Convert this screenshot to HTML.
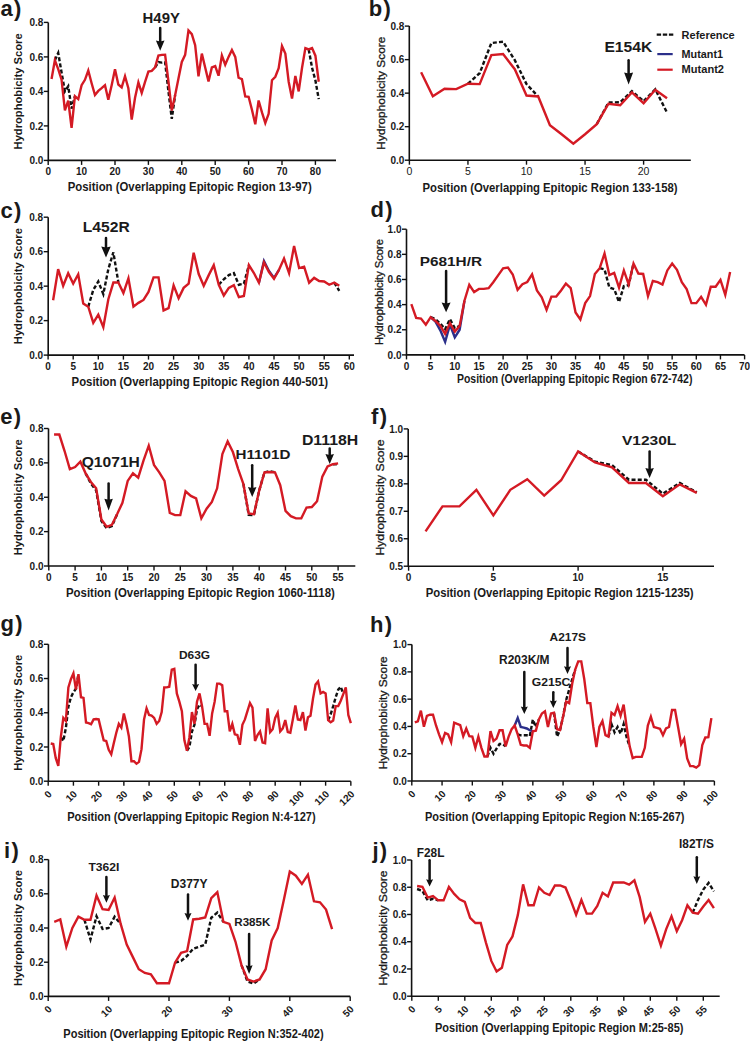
<!DOCTYPE html>
<html><head><meta charset="utf-8"><style>
html,body{margin:0;padding:0;background:#fff;overflow:hidden;}
svg{display:block;}
text{font-family:"Liberation Sans", sans-serif;fill:#1a1a1a;}
.tk{font-size:10px;font-weight:bold;}
.ti{font-size:12px;font-weight:bold;}
.yl{font-size:10.5px;font-weight:bold;}
.yln{font-weight:normal;font-size:10.5px;stroke:#1a1a1a;stroke-width:0.3px;}
.tkn{font-size:10.5px;font-weight:normal;}
.pl{font-size:22px;font-weight:bold;letter-spacing:1.3px;}
.an{font-size:14px;font-weight:bold;}
.lg{font-size:11px;font-weight:bold;}
</style></head><body>
<svg width="750" height="1042" viewBox="0 0 750 1042">
<rect width="750" height="1042" fill="#fff"/>
<path d="M48.30 22.40 V160.40 H336.00" fill="none" stroke="#111" stroke-width="1.6"/>
<line x1="43.80" y1="160.40" x2="48.30" y2="160.40" stroke="#111" stroke-width="1.4"/>
<text x="43.30" y="164.00" text-anchor="end" class="tk">0.0</text>
<line x1="43.80" y1="125.90" x2="48.30" y2="125.90" stroke="#111" stroke-width="1.4"/>
<text x="43.30" y="129.50" text-anchor="end" class="tk">0.2</text>
<line x1="43.80" y1="91.40" x2="48.30" y2="91.40" stroke="#111" stroke-width="1.4"/>
<text x="43.30" y="95.00" text-anchor="end" class="tk">0.4</text>
<line x1="43.80" y1="56.90" x2="48.30" y2="56.90" stroke="#111" stroke-width="1.4"/>
<text x="43.30" y="60.50" text-anchor="end" class="tk">0.6</text>
<line x1="43.80" y1="22.40" x2="48.30" y2="22.40" stroke="#111" stroke-width="1.4"/>
<text x="43.30" y="26.00" text-anchor="end" class="tk">0.8</text>
<line x1="48.20" y1="160.40" x2="48.20" y2="164.90" stroke="#111" stroke-width="1.4"/>
<text x="48.20" y="175.40" text-anchor="middle" class="tk">0</text>
<line x1="81.60" y1="160.40" x2="81.60" y2="164.90" stroke="#111" stroke-width="1.4"/>
<text x="81.60" y="175.40" text-anchor="middle" class="tk">10</text>
<line x1="115.00" y1="160.40" x2="115.00" y2="164.90" stroke="#111" stroke-width="1.4"/>
<text x="115.00" y="175.40" text-anchor="middle" class="tk">20</text>
<line x1="148.40" y1="160.40" x2="148.40" y2="164.90" stroke="#111" stroke-width="1.4"/>
<text x="148.40" y="175.40" text-anchor="middle" class="tk">30</text>
<line x1="181.80" y1="160.40" x2="181.80" y2="164.90" stroke="#111" stroke-width="1.4"/>
<text x="181.80" y="175.40" text-anchor="middle" class="tk">40</text>
<line x1="215.20" y1="160.40" x2="215.20" y2="164.90" stroke="#111" stroke-width="1.4"/>
<text x="215.20" y="175.40" text-anchor="middle" class="tk">50</text>
<line x1="248.60" y1="160.40" x2="248.60" y2="164.90" stroke="#111" stroke-width="1.4"/>
<text x="248.60" y="175.40" text-anchor="middle" class="tk">60</text>
<line x1="282.00" y1="160.40" x2="282.00" y2="164.90" stroke="#111" stroke-width="1.4"/>
<text x="282.00" y="175.40" text-anchor="middle" class="tk">70</text>
<line x1="315.40" y1="160.40" x2="315.40" y2="164.90" stroke="#111" stroke-width="1.4"/>
<text x="315.40" y="175.40" text-anchor="middle" class="tk">80</text>
<text x="67.70" y="191.00" class="ti" textLength="244.0" lengthAdjust="spacingAndGlyphs">Position (Overlapping Epitopic Region 13-97)</text>
<text transform="translate(22.30,91.40) rotate(-90)" text-anchor="middle" class="yl" textLength="116.0" lengthAdjust="spacingAndGlyphs">Hydrophobicity Score</text>
<text x="0.50" y="16.00" class="pl">a)</text>
<polyline points="54.88,60.18 58.22,52.93 61.56,72.43 64.90,91.40 68.24,86.23 71.58,108.65 74.92,96.23" fill="none" stroke="#111" stroke-width="2.4" stroke-dasharray="4 2.2"/>
<polyline points="155.08,67.42 158.42,62.08 161.76,62.59 165.10,62.08 168.44,91.40 171.78,118.83 175.12,95.20" fill="none" stroke="#111" stroke-width="2.4" stroke-dasharray="4 2.2"/>
<polyline points="308.72,49.48 312.06,67.77 315.40,80.36 318.74,99.16" fill="none" stroke="#111" stroke-width="2.4" stroke-dasharray="4 2.2"/>
<polyline points="51.54,78.98 54.88,60.18 58.22,69.15 61.56,79.67 64.90,110.38 68.24,100.54 71.58,127.80 74.92,96.23 78.26,99.16 81.60,85.19 84.94,79.84 88.28,70.53 91.62,83.29 94.96,95.02 98.30,90.88 101.64,88.12 104.98,85.19 108.32,99.85 111.66,85.19 115.00,69.15 118.34,84.50 121.68,87.43 125.02,76.22 128.36,88.12 131.70,119.52 135.04,97.78 138.38,82.43 141.72,92.95 145.06,81.91 148.40,71.56 151.74,70.87 155.08,67.42 158.42,55.52 161.76,54.83 165.10,54.66 168.44,81.40 171.78,110.55 175.12,95.20 178.46,78.46 181.80,61.90 185.14,54.83 188.48,30.51 191.82,34.13 195.16,45.17 198.50,76.39 201.84,53.62 205.18,67.42 208.52,81.40 211.86,67.42 215.20,66.04 218.54,75.70 221.88,55.52 225.22,64.66 228.56,56.90 231.90,50.00 235.24,56.90 238.58,77.77 241.92,79.15 245.26,96.40 248.60,96.75 251.94,109.69 255.28,124.35 258.62,100.54 261.96,112.44 265.30,122.97 268.64,113.83 271.98,80.19 275.32,76.74 278.66,68.29 282.00,46.03 285.34,53.62 288.68,81.74 292.02,98.47 295.36,76.05 298.70,91.40 302.04,67.77 305.38,48.10 308.72,49.48 312.06,48.10 315.40,55.69 318.74,81.74" fill="none" stroke="#d41a24" stroke-width="2.4"/>
<path d="M409.30 26.10 V160.20 H690.80" fill="none" stroke="#111" stroke-width="1.6"/>
<line x1="404.80" y1="160.20" x2="409.30" y2="160.20" stroke="#111" stroke-width="1.4"/>
<text x="404.30" y="163.80" text-anchor="end" class="tk">0.0</text>
<line x1="404.80" y1="126.67" x2="409.30" y2="126.67" stroke="#111" stroke-width="1.4"/>
<text x="404.30" y="130.27" text-anchor="end" class="tk">0.2</text>
<line x1="404.80" y1="93.15" x2="409.30" y2="93.15" stroke="#111" stroke-width="1.4"/>
<text x="404.30" y="96.75" text-anchor="end" class="tk">0.4</text>
<line x1="404.80" y1="59.63" x2="409.30" y2="59.63" stroke="#111" stroke-width="1.4"/>
<text x="404.30" y="63.23" text-anchor="end" class="tk">0.6</text>
<line x1="404.80" y1="26.10" x2="409.30" y2="26.10" stroke="#111" stroke-width="1.4"/>
<text x="404.30" y="29.70" text-anchor="end" class="tk">0.8</text>
<line x1="409.40" y1="160.20" x2="409.40" y2="164.70" stroke="#111" stroke-width="1.4"/>
<text x="409.40" y="175.20" text-anchor="middle" class="tkn">0</text>
<line x1="467.95" y1="160.20" x2="467.95" y2="164.70" stroke="#111" stroke-width="1.4"/>
<text x="467.95" y="175.20" text-anchor="middle" class="tkn">5</text>
<line x1="526.50" y1="160.20" x2="526.50" y2="164.70" stroke="#111" stroke-width="1.4"/>
<text x="526.50" y="175.20" text-anchor="middle" class="tkn">10</text>
<line x1="585.05" y1="160.20" x2="585.05" y2="164.70" stroke="#111" stroke-width="1.4"/>
<text x="585.05" y="175.20" text-anchor="middle" class="tkn">15</text>
<line x1="643.60" y1="160.20" x2="643.60" y2="164.70" stroke="#111" stroke-width="1.4"/>
<text x="643.60" y="175.20" text-anchor="middle" class="tkn">20</text>
<text x="422.50" y="191.80" class="ti" textLength="255.0" lengthAdjust="spacingAndGlyphs">Position (Overlapping Epitopic Region 133-158)</text>
<text transform="translate(384.80,93.15) rotate(-90)" text-anchor="middle" class="yl yln" textLength="113.0" lengthAdjust="spacingAndGlyphs">Hydrophobicity Score</text>
<text x="368.80" y="16.00" class="pl">b)</text>
<polyline points="467.95,83.76 479.66,73.20 491.37,43.03 503.08,41.69 514.79,60.13 526.50,84.10 538.21,96.50" fill="none" stroke="#111" stroke-width="2.4" stroke-dasharray="4 2.2"/>
<polyline points="596.76,124.16 608.47,102.54 620.18,102.20 631.89,91.14 643.60,101.20 655.31,89.29 667.02,112.59" fill="none" stroke="#111" stroke-width="2.4" stroke-dasharray="4 2.2"/>
<polyline points="421.11,72.20 432.82,96.17 444.53,88.79 456.24,89.13 467.95,83.76 479.66,84.10 491.37,55.10 503.08,54.09 514.79,69.18 526.50,95.50 538.21,96.50 549.92,125.17 561.63,134.22 573.34,143.77 585.05,134.22 596.76,124.16 608.47,103.71 620.18,105.22 631.89,92.48 643.60,103.21 655.31,89.80 667.02,98.18" fill="none" stroke="#d41a24" stroke-width="2.4"/>
<path d="M48.20 217.20 V355.10 H354.00" fill="none" stroke="#111" stroke-width="1.6"/>
<line x1="43.70" y1="355.10" x2="48.20" y2="355.10" stroke="#111" stroke-width="1.4"/>
<text x="43.20" y="358.70" text-anchor="end" class="tk">0.0</text>
<line x1="43.70" y1="320.62" x2="48.20" y2="320.62" stroke="#111" stroke-width="1.4"/>
<text x="43.20" y="324.23" text-anchor="end" class="tk">0.2</text>
<line x1="43.70" y1="286.15" x2="48.20" y2="286.15" stroke="#111" stroke-width="1.4"/>
<text x="43.20" y="289.75" text-anchor="end" class="tk">0.4</text>
<line x1="43.70" y1="251.68" x2="48.20" y2="251.68" stroke="#111" stroke-width="1.4"/>
<text x="43.20" y="255.28" text-anchor="end" class="tk">0.6</text>
<line x1="43.70" y1="217.20" x2="48.20" y2="217.20" stroke="#111" stroke-width="1.4"/>
<text x="43.20" y="220.80" text-anchor="end" class="tk">0.8</text>
<line x1="48.10" y1="355.10" x2="48.10" y2="359.60" stroke="#111" stroke-width="1.4"/>
<text x="48.10" y="370.10" text-anchor="middle" class="tk">0</text>
<line x1="73.20" y1="355.10" x2="73.20" y2="359.60" stroke="#111" stroke-width="1.4"/>
<text x="73.20" y="370.10" text-anchor="middle" class="tk">5</text>
<line x1="98.30" y1="355.10" x2="98.30" y2="359.60" stroke="#111" stroke-width="1.4"/>
<text x="98.30" y="370.10" text-anchor="middle" class="tk">10</text>
<line x1="123.40" y1="355.10" x2="123.40" y2="359.60" stroke="#111" stroke-width="1.4"/>
<text x="123.40" y="370.10" text-anchor="middle" class="tk">15</text>
<line x1="148.50" y1="355.10" x2="148.50" y2="359.60" stroke="#111" stroke-width="1.4"/>
<text x="148.50" y="370.10" text-anchor="middle" class="tk">20</text>
<line x1="173.60" y1="355.10" x2="173.60" y2="359.60" stroke="#111" stroke-width="1.4"/>
<text x="173.60" y="370.10" text-anchor="middle" class="tk">25</text>
<line x1="198.70" y1="355.10" x2="198.70" y2="359.60" stroke="#111" stroke-width="1.4"/>
<text x="198.70" y="370.10" text-anchor="middle" class="tk">30</text>
<line x1="223.80" y1="355.10" x2="223.80" y2="359.60" stroke="#111" stroke-width="1.4"/>
<text x="223.80" y="370.10" text-anchor="middle" class="tk">35</text>
<line x1="248.90" y1="355.10" x2="248.90" y2="359.60" stroke="#111" stroke-width="1.4"/>
<text x="248.90" y="370.10" text-anchor="middle" class="tk">40</text>
<line x1="274.00" y1="355.10" x2="274.00" y2="359.60" stroke="#111" stroke-width="1.4"/>
<text x="274.00" y="370.10" text-anchor="middle" class="tk">45</text>
<line x1="299.10" y1="355.10" x2="299.10" y2="359.60" stroke="#111" stroke-width="1.4"/>
<text x="299.10" y="370.10" text-anchor="middle" class="tk">50</text>
<line x1="324.20" y1="355.10" x2="324.20" y2="359.60" stroke="#111" stroke-width="1.4"/>
<text x="324.20" y="370.10" text-anchor="middle" class="tk">55</text>
<line x1="349.30" y1="355.10" x2="349.30" y2="359.60" stroke="#111" stroke-width="1.4"/>
<text x="349.30" y="370.10" text-anchor="middle" class="tk">60</text>
<text x="71.60" y="386.00" class="ti" textLength="256.4" lengthAdjust="spacingAndGlyphs">Position (Overlapping Epitopic Region 440-501)</text>
<text transform="translate(22.30,286.15) rotate(-90)" text-anchor="middle" class="yl" textLength="116.0" lengthAdjust="spacingAndGlyphs">Hydrophobicity Score</text>
<text x="0.50" y="218.00" class="pl">c)</text>
<polyline points="88.26,306.66 93.28,289.94 98.30,281.50 103.32,294.08 108.34,269.08 113.36,252.36 118.38,282.53" fill="none" stroke="#111" stroke-width="2.4" stroke-dasharray="4 2.2"/>
<polyline points="218.78,284.77 223.80,279.25 228.82,275.12 233.84,273.05 238.86,284.77 243.88,283.74 248.90,265.12" fill="none" stroke="#111" stroke-width="2.4" stroke-dasharray="4 2.2"/>
<polyline points="334.24,282.70 339.26,290.80" fill="none" stroke="#111" stroke-width="2.4" stroke-dasharray="4 2.2"/>
<polyline points="258.94,282.70 263.96,260.98 268.98,270.98 274.00,277.88 279.02,269.77" fill="none" stroke="#2b2f8a" stroke-width="2.4"/>
<polyline points="53.12,300.28 58.14,269.08 63.16,285.81 68.18,273.22 73.20,283.56 78.22,274.26 83.24,303.56 88.26,306.66 93.28,322.87 98.30,314.59 103.32,327.18 108.34,299.25 113.36,282.53 118.38,282.53 123.40,293.05 128.42,278.39 133.44,306.66 138.46,302.87 143.48,299.94 148.50,292.01 153.52,277.36 158.54,277.36 163.56,310.45 168.58,308.21 173.60,285.29 178.62,298.22 183.64,287.87 188.66,283.56 193.68,252.71 198.70,274.08 203.72,285.81 208.74,275.12 213.76,265.12 218.78,284.77 223.80,295.46 228.82,287.87 233.84,285.12 238.86,297.18 243.88,295.98 248.90,265.12 253.92,273.05 258.94,282.70 263.96,262.36 268.98,272.02 274.00,278.74 279.02,269.77 284.04,258.57 289.06,273.05 294.08,245.99 299.10,268.05 304.12,266.67 309.14,282.70 314.16,277.88 319.18,280.98 324.20,281.50 329.22,284.77 334.24,282.70 339.26,285.81" fill="none" stroke="#d41a24" stroke-width="2.4"/>
<path d="M406.50 229.20 V354.90 H744.50" fill="none" stroke="#111" stroke-width="1.6"/>
<line x1="402.00" y1="354.90" x2="406.50" y2="354.90" stroke="#111" stroke-width="1.4"/>
<text x="401.50" y="358.50" text-anchor="end" class="tk">0.0</text>
<line x1="402.00" y1="329.76" x2="406.50" y2="329.76" stroke="#111" stroke-width="1.4"/>
<text x="401.50" y="333.36" text-anchor="end" class="tk">0.2</text>
<line x1="402.00" y1="304.62" x2="406.50" y2="304.62" stroke="#111" stroke-width="1.4"/>
<text x="401.50" y="308.22" text-anchor="end" class="tk">0.4</text>
<line x1="402.00" y1="279.48" x2="406.50" y2="279.48" stroke="#111" stroke-width="1.4"/>
<text x="401.50" y="283.08" text-anchor="end" class="tk">0.6</text>
<line x1="402.00" y1="254.34" x2="406.50" y2="254.34" stroke="#111" stroke-width="1.4"/>
<text x="401.50" y="257.94" text-anchor="end" class="tk">0.8</text>
<line x1="402.00" y1="229.20" x2="406.50" y2="229.20" stroke="#111" stroke-width="1.4"/>
<text x="401.50" y="232.80" text-anchor="end" class="tk">1.0</text>
<line x1="406.50" y1="354.90" x2="406.50" y2="359.40" stroke="#111" stroke-width="1.4"/>
<text x="406.50" y="369.90" text-anchor="middle" class="tk">0</text>
<line x1="430.65" y1="354.90" x2="430.65" y2="359.40" stroke="#111" stroke-width="1.4"/>
<text x="430.65" y="369.90" text-anchor="middle" class="tk">5</text>
<line x1="454.80" y1="354.90" x2="454.80" y2="359.40" stroke="#111" stroke-width="1.4"/>
<text x="454.80" y="369.90" text-anchor="middle" class="tk">10</text>
<line x1="478.95" y1="354.90" x2="478.95" y2="359.40" stroke="#111" stroke-width="1.4"/>
<text x="478.95" y="369.90" text-anchor="middle" class="tk">15</text>
<line x1="503.10" y1="354.90" x2="503.10" y2="359.40" stroke="#111" stroke-width="1.4"/>
<text x="503.10" y="369.90" text-anchor="middle" class="tk">20</text>
<line x1="527.25" y1="354.90" x2="527.25" y2="359.40" stroke="#111" stroke-width="1.4"/>
<text x="527.25" y="369.90" text-anchor="middle" class="tk">25</text>
<line x1="551.40" y1="354.90" x2="551.40" y2="359.40" stroke="#111" stroke-width="1.4"/>
<text x="551.40" y="369.90" text-anchor="middle" class="tk">30</text>
<line x1="575.55" y1="354.90" x2="575.55" y2="359.40" stroke="#111" stroke-width="1.4"/>
<text x="575.55" y="369.90" text-anchor="middle" class="tk">35</text>
<line x1="599.70" y1="354.90" x2="599.70" y2="359.40" stroke="#111" stroke-width="1.4"/>
<text x="599.70" y="369.90" text-anchor="middle" class="tk">40</text>
<line x1="623.85" y1="354.90" x2="623.85" y2="359.40" stroke="#111" stroke-width="1.4"/>
<text x="623.85" y="369.90" text-anchor="middle" class="tk">45</text>
<line x1="648.00" y1="354.90" x2="648.00" y2="359.40" stroke="#111" stroke-width="1.4"/>
<text x="648.00" y="369.90" text-anchor="middle" class="tk">50</text>
<line x1="672.15" y1="354.90" x2="672.15" y2="359.40" stroke="#111" stroke-width="1.4"/>
<text x="672.15" y="369.90" text-anchor="middle" class="tk">55</text>
<line x1="696.30" y1="354.90" x2="696.30" y2="359.40" stroke="#111" stroke-width="1.4"/>
<text x="696.30" y="369.90" text-anchor="middle" class="tk">60</text>
<line x1="720.45" y1="354.90" x2="720.45" y2="359.40" stroke="#111" stroke-width="1.4"/>
<text x="720.45" y="369.90" text-anchor="middle" class="tk">65</text>
<line x1="744.60" y1="354.90" x2="744.60" y2="359.40" stroke="#111" stroke-width="1.4"/>
<text x="744.60" y="369.90" text-anchor="middle" class="tk">70</text>
<text x="457.00" y="382.90" class="ti" textLength="235.4" lengthAdjust="spacingAndGlyphs">Position (Overlapping Epitopic Region 672-742)</text>
<text transform="translate(383.40,292.05) rotate(-90)" text-anchor="middle" class="yl yln" textLength="106.0" lengthAdjust="spacingAndGlyphs">Hydrophobicity Score</text>
<text x="370.40" y="217.40" class="pl">d)</text>
<polyline points="430.65,317.19 435.48,319.08 440.31,323.60 445.14,329.26 449.97,319.08 454.80,328.13 459.63,325.86" fill="none" stroke="#111" stroke-width="2.4" stroke-dasharray="4 2.2"/>
<polyline points="599.70,268.17 604.53,269.42 609.36,287.52 614.19,289.16 619.02,301.98 623.85,286.14 628.68,285.14 633.51,263.52" fill="none" stroke="#111" stroke-width="2.4" stroke-dasharray="4 2.2"/>
<polyline points="430.65,317.19 435.48,321.59 440.31,330.39 445.14,341.83 449.97,324.73 454.80,337.30 459.63,329.76 464.46,300.72" fill="none" stroke="#2b2f8a" stroke-width="2.4"/>
<polyline points="411.33,304.12 416.16,317.82 420.99,318.57 425.82,324.73 430.65,317.19 435.48,320.96 440.31,325.86 445.14,333.91 449.97,323.10 454.80,331.65 459.63,325.86 464.46,300.72 469.29,284.76 474.12,292.05 478.95,288.91 483.78,288.91 488.61,288.15 493.44,281.99 498.27,275.08 503.10,268.29 507.93,267.54 512.76,274.45 517.59,289.79 522.42,284.26 527.25,281.99 532.08,274.45 536.91,290.42 541.74,297.33 546.57,309.90 551.40,296.58 556.23,296.58 561.06,290.42 565.89,283.63 570.72,288.03 575.55,312.41 580.38,319.45 585.21,303.11 590.04,296.07 594.87,273.95 599.70,268.17 604.53,253.46 609.36,275.08 614.19,272.82 619.02,287.52 623.85,270.43 628.68,284.51 633.51,263.52 638.34,273.57 643.17,273.95 648.00,296.07 652.83,280.99 657.66,282.12 662.49,284.51 667.32,270.43 672.15,263.52 676.98,269.80 681.81,282.12 686.64,289.16 691.47,303.11 696.30,303.11 701.13,296.83 705.96,304.75 710.79,286.77 715.62,286.77 720.45,279.86 725.28,294.94 730.11,272.06" fill="none" stroke="#d41a24" stroke-width="2.4"/>
<path d="M48.50 428.50 V566.00 H355.30" fill="none" stroke="#111" stroke-width="1.6"/>
<line x1="44.00" y1="566.00" x2="48.50" y2="566.00" stroke="#111" stroke-width="1.4"/>
<text x="43.50" y="569.60" text-anchor="end" class="tk">0.0</text>
<line x1="44.00" y1="531.62" x2="48.50" y2="531.62" stroke="#111" stroke-width="1.4"/>
<text x="43.50" y="535.23" text-anchor="end" class="tk">0.2</text>
<line x1="44.00" y1="497.25" x2="48.50" y2="497.25" stroke="#111" stroke-width="1.4"/>
<text x="43.50" y="500.85" text-anchor="end" class="tk">0.4</text>
<line x1="44.00" y1="462.88" x2="48.50" y2="462.88" stroke="#111" stroke-width="1.4"/>
<text x="43.50" y="466.48" text-anchor="end" class="tk">0.6</text>
<line x1="44.00" y1="428.50" x2="48.50" y2="428.50" stroke="#111" stroke-width="1.4"/>
<text x="43.50" y="432.10" text-anchor="end" class="tk">0.8</text>
<line x1="48.80" y1="566.00" x2="48.80" y2="570.50" stroke="#111" stroke-width="1.4"/>
<text x="48.80" y="581.00" text-anchor="middle" class="tk">0</text>
<line x1="75.10" y1="566.00" x2="75.10" y2="570.50" stroke="#111" stroke-width="1.4"/>
<text x="75.10" y="581.00" text-anchor="middle" class="tk">5</text>
<line x1="101.40" y1="566.00" x2="101.40" y2="570.50" stroke="#111" stroke-width="1.4"/>
<text x="101.40" y="581.00" text-anchor="middle" class="tk">10</text>
<line x1="127.70" y1="566.00" x2="127.70" y2="570.50" stroke="#111" stroke-width="1.4"/>
<text x="127.70" y="581.00" text-anchor="middle" class="tk">15</text>
<line x1="154.00" y1="566.00" x2="154.00" y2="570.50" stroke="#111" stroke-width="1.4"/>
<text x="154.00" y="581.00" text-anchor="middle" class="tk">20</text>
<line x1="180.30" y1="566.00" x2="180.30" y2="570.50" stroke="#111" stroke-width="1.4"/>
<text x="180.30" y="581.00" text-anchor="middle" class="tk">25</text>
<line x1="206.60" y1="566.00" x2="206.60" y2="570.50" stroke="#111" stroke-width="1.4"/>
<text x="206.60" y="581.00" text-anchor="middle" class="tk">30</text>
<line x1="232.90" y1="566.00" x2="232.90" y2="570.50" stroke="#111" stroke-width="1.4"/>
<text x="232.90" y="581.00" text-anchor="middle" class="tk">35</text>
<line x1="259.20" y1="566.00" x2="259.20" y2="570.50" stroke="#111" stroke-width="1.4"/>
<text x="259.20" y="581.00" text-anchor="middle" class="tk">40</text>
<line x1="285.50" y1="566.00" x2="285.50" y2="570.50" stroke="#111" stroke-width="1.4"/>
<text x="285.50" y="581.00" text-anchor="middle" class="tk">45</text>
<line x1="311.80" y1="566.00" x2="311.80" y2="570.50" stroke="#111" stroke-width="1.4"/>
<text x="311.80" y="581.00" text-anchor="middle" class="tk">50</text>
<line x1="338.10" y1="566.00" x2="338.10" y2="570.50" stroke="#111" stroke-width="1.4"/>
<text x="338.10" y="581.00" text-anchor="middle" class="tk">55</text>
<text x="66.00" y="597.30" class="ti" textLength="268.8" lengthAdjust="spacingAndGlyphs">Position (Overlapping Epitopic Region 1060-1118)</text>
<text transform="translate(22.30,497.25) rotate(-90)" text-anchor="middle" class="yl" textLength="116.0" lengthAdjust="spacingAndGlyphs">Hydrophobicity Score</text>
<text x="0.20" y="424.40" class="pl">e)</text>
<polyline points="85.62,473.36 90.88,483.50 96.14,490.38 101.40,520.97 106.66,528.19 111.92,526.12 117.18,514.09" fill="none" stroke="#111" stroke-width="2.4" stroke-dasharray="4 2.2"/>
<polyline points="243.42,484.02 248.68,514.78 253.94,515.12 259.20,490.55 264.46,472.33 269.72,471.12 274.98,472.33" fill="none" stroke="#111" stroke-width="2.4" stroke-dasharray="4 2.2"/>
<polyline points="332.84,464.25 338.10,464.25" fill="none" stroke="#111" stroke-width="2.4" stroke-dasharray="4 2.2"/>
<polyline points="54.06,434.52 59.32,434.52 64.58,451.02 69.84,469.06 75.10,467.00 80.36,461.67 85.62,473.36 90.88,481.95 96.14,488.31 101.40,519.42 106.66,526.81 111.92,524.75 117.18,514.09 122.44,502.75 127.70,480.92 132.96,473.36 138.22,477.66 143.48,460.64 148.74,445.69 154.00,464.94 159.26,472.33 164.52,480.92 169.78,512.89 175.04,515.12 180.30,515.12 185.56,491.23 190.82,495.88 196.08,498.45 201.34,518.39 206.60,508.77 211.86,501.89 217.12,488.31 222.38,454.11 227.64,441.39 232.90,452.05 238.16,469.06 243.42,484.02 248.68,513.41 253.94,514.09 259.20,490.55 264.46,472.33 269.72,471.98 274.98,472.33 280.24,485.22 285.50,510.83 290.76,516.16 296.02,518.39 301.28,518.39 306.54,507.56 311.80,507.05 317.06,501.20 322.32,476.62 327.58,466.48 332.84,464.25 338.10,463.39" fill="none" stroke="#d41a24" stroke-width="2.4"/>
<path d="M408.20 428.90 V566.20 H714.00" fill="none" stroke="#111" stroke-width="1.6"/>
<line x1="403.70" y1="566.20" x2="408.20" y2="566.20" stroke="#111" stroke-width="1.4"/>
<text x="403.20" y="569.80" text-anchor="end" class="tk">0.5</text>
<line x1="403.70" y1="538.74" x2="408.20" y2="538.74" stroke="#111" stroke-width="1.4"/>
<text x="403.20" y="542.34" text-anchor="end" class="tk">0.6</text>
<line x1="403.70" y1="511.28" x2="408.20" y2="511.28" stroke="#111" stroke-width="1.4"/>
<text x="403.20" y="514.88" text-anchor="end" class="tk">0.7</text>
<line x1="403.70" y1="483.82" x2="408.20" y2="483.82" stroke="#111" stroke-width="1.4"/>
<text x="403.20" y="487.42" text-anchor="end" class="tk">0.8</text>
<line x1="403.70" y1="456.36" x2="408.20" y2="456.36" stroke="#111" stroke-width="1.4"/>
<text x="403.20" y="459.96" text-anchor="end" class="tk">0.9</text>
<line x1="403.70" y1="428.90" x2="408.20" y2="428.90" stroke="#111" stroke-width="1.4"/>
<text x="403.20" y="432.50" text-anchor="end" class="tk">1.0</text>
<line x1="408.60" y1="566.20" x2="408.60" y2="570.70" stroke="#111" stroke-width="1.4"/>
<text x="408.60" y="581.20" text-anchor="middle" class="tk">0</text>
<line x1="493.35" y1="566.20" x2="493.35" y2="570.70" stroke="#111" stroke-width="1.4"/>
<text x="493.35" y="581.20" text-anchor="middle" class="tk">5</text>
<line x1="578.10" y1="566.20" x2="578.10" y2="570.70" stroke="#111" stroke-width="1.4"/>
<text x="578.10" y="581.20" text-anchor="middle" class="tk">10</text>
<line x1="662.85" y1="566.20" x2="662.85" y2="570.70" stroke="#111" stroke-width="1.4"/>
<text x="662.85" y="581.20" text-anchor="middle" class="tk">15</text>
<text x="425.70" y="597.00" class="ti" textLength="267.9" lengthAdjust="spacingAndGlyphs">Position (Overlapping Epitopic Region 1215-1235)</text>
<text transform="translate(383.60,497.55) rotate(-90)" text-anchor="middle" class="yl yln" textLength="116.0" lengthAdjust="spacingAndGlyphs">Hydrophobicity Score</text>
<text x="371.00" y="424.00" class="pl">f)</text>
<polyline points="578.10,451.42 595.05,461.58 612.00,465.15 628.95,479.70 645.90,479.70 662.85,493.71 679.80,483.00 696.75,492.33" fill="none" stroke="#111" stroke-width="2.4" stroke-dasharray="4 2.2"/>
<polyline points="425.55,531.33 442.50,506.34 459.45,506.34 476.40,489.86 493.35,515.40 510.30,489.86 527.25,479.15 544.20,495.63 561.15,480.25 578.10,451.42 595.05,462.40 612.00,467.34 628.95,483.00 645.90,483.00 662.85,496.18 679.80,484.37 696.75,492.88" fill="none" stroke="#d41a24" stroke-width="2.4"/>
<path d="M48.40 644.30 V781.20 H350.80" fill="none" stroke="#111" stroke-width="1.6"/>
<line x1="43.90" y1="781.20" x2="48.40" y2="781.20" stroke="#111" stroke-width="1.4"/>
<text x="43.40" y="784.80" text-anchor="end" class="tk">0.0</text>
<line x1="43.90" y1="746.98" x2="48.40" y2="746.98" stroke="#111" stroke-width="1.4"/>
<text x="43.40" y="750.58" text-anchor="end" class="tk">0.2</text>
<line x1="43.90" y1="712.75" x2="48.40" y2="712.75" stroke="#111" stroke-width="1.4"/>
<text x="43.40" y="716.35" text-anchor="end" class="tk">0.4</text>
<line x1="43.90" y1="678.52" x2="48.40" y2="678.52" stroke="#111" stroke-width="1.4"/>
<text x="43.40" y="682.12" text-anchor="end" class="tk">0.6</text>
<line x1="43.90" y1="644.30" x2="48.40" y2="644.30" stroke="#111" stroke-width="1.4"/>
<text x="43.40" y="647.90" text-anchor="end" class="tk">0.8</text>
<line x1="48.20" y1="781.20" x2="48.20" y2="785.70" stroke="#111" stroke-width="1.4"/>
<text transform="translate(52.50,794.70) rotate(-45)" text-anchor="end" class="tk">0</text>
<line x1="73.42" y1="781.20" x2="73.42" y2="785.70" stroke="#111" stroke-width="1.4"/>
<text transform="translate(77.72,794.70) rotate(-45)" text-anchor="end" class="tk">10</text>
<line x1="98.64" y1="781.20" x2="98.64" y2="785.70" stroke="#111" stroke-width="1.4"/>
<text transform="translate(102.94,794.70) rotate(-45)" text-anchor="end" class="tk">20</text>
<line x1="123.86" y1="781.20" x2="123.86" y2="785.70" stroke="#111" stroke-width="1.4"/>
<text transform="translate(128.16,794.70) rotate(-45)" text-anchor="end" class="tk">30</text>
<line x1="149.08" y1="781.20" x2="149.08" y2="785.70" stroke="#111" stroke-width="1.4"/>
<text transform="translate(153.38,794.70) rotate(-45)" text-anchor="end" class="tk">40</text>
<line x1="174.30" y1="781.20" x2="174.30" y2="785.70" stroke="#111" stroke-width="1.4"/>
<text transform="translate(178.60,794.70) rotate(-45)" text-anchor="end" class="tk">50</text>
<line x1="199.52" y1="781.20" x2="199.52" y2="785.70" stroke="#111" stroke-width="1.4"/>
<text transform="translate(203.82,794.70) rotate(-45)" text-anchor="end" class="tk">60</text>
<line x1="224.74" y1="781.20" x2="224.74" y2="785.70" stroke="#111" stroke-width="1.4"/>
<text transform="translate(229.04,794.70) rotate(-45)" text-anchor="end" class="tk">70</text>
<line x1="249.96" y1="781.20" x2="249.96" y2="785.70" stroke="#111" stroke-width="1.4"/>
<text transform="translate(254.26,794.70) rotate(-45)" text-anchor="end" class="tk">80</text>
<line x1="275.18" y1="781.20" x2="275.18" y2="785.70" stroke="#111" stroke-width="1.4"/>
<text transform="translate(279.48,794.70) rotate(-45)" text-anchor="end" class="tk">90</text>
<line x1="300.40" y1="781.20" x2="300.40" y2="785.70" stroke="#111" stroke-width="1.4"/>
<text transform="translate(304.70,794.70) rotate(-45)" text-anchor="end" class="tk">100</text>
<line x1="325.62" y1="781.20" x2="325.62" y2="785.70" stroke="#111" stroke-width="1.4"/>
<text transform="translate(329.92,794.70) rotate(-45)" text-anchor="end" class="tk">110</text>
<line x1="350.84" y1="781.20" x2="350.84" y2="785.70" stroke="#111" stroke-width="1.4"/>
<text transform="translate(355.14,794.70) rotate(-45)" text-anchor="end" class="tk">120</text>
<text x="67.20" y="820.80" class="ti" textLength="248.4" lengthAdjust="spacingAndGlyphs">Position (Overlapping Epitopic Region N:4-127)</text>
<text transform="translate(22.30,712.75) rotate(-90)" text-anchor="middle" class="yl" textLength="116.0" lengthAdjust="spacingAndGlyphs">Hydrophobicity Score</text>
<text x="0.50" y="631.00" class="pl">g)</text>
<polyline points="60.81,737.22 63.33,740.99 65.85,728.15 68.38,706.76 70.90,697.35 73.42,692.22 75.94,688.79 78.46,674.08" fill="none" stroke="#111" stroke-width="2.4" stroke-dasharray="4 2.2"/>
<polyline points="186.91,750.74 189.43,746.98 191.95,731.57 194.48,724.73 197.00,709.33 199.52,704.54 202.04,706.08" fill="none" stroke="#111" stroke-width="2.4" stroke-dasharray="4 2.2"/>
<polyline points="328.14,720.11 330.66,714.29 333.19,706.08 335.71,697.18 338.23,689.65 340.75,686.74 343.27,694.10" fill="none" stroke="#111" stroke-width="2.4" stroke-dasharray="4 2.2"/>
<polyline points="50.72,743.55 53.24,744.07 55.77,758.10 58.29,765.80 60.81,737.22 63.33,717.88 65.85,720.96 68.38,687.42 70.90,679.21 73.42,673.39 75.94,689.65 78.46,674.08 80.99,697.18 83.51,697.86 86.03,722.50 88.55,723.19 91.07,724.22 93.60,719.42 96.12,719.08 98.64,719.42 101.16,729.86 103.68,740.30 106.21,740.99 108.73,749.88 111.25,754.33 113.77,743.21 116.29,732.77 118.82,723.87 121.34,727.64 123.86,713.43 126.38,723.87 128.90,736.54 131.43,761.18 133.95,761.18 136.47,763.75 138.99,761.86 141.51,749.20 144.04,719.42 146.56,708.30 149.08,714.97 151.60,715.66 154.12,717.88 156.65,723.87 159.17,720.96 161.69,712.07 164.21,687.42 166.73,687.42 169.26,686.74 171.78,669.63 174.30,668.77 176.82,693.41 179.34,701.63 181.87,711.21 184.39,740.30 186.91,750.74 189.43,737.22 191.95,712.07 194.48,723.87 197.00,701.63 199.52,693.41 202.04,706.08 204.56,723.87 207.09,723.87 209.61,735.85 212.13,713.43 214.65,701.63 217.17,683.66 219.70,683.66 222.22,685.20 224.74,711.21 227.26,711.21 229.78,731.40 232.31,723.87 234.83,734.31 237.35,735.00 239.87,744.75 242.39,724.73 244.92,719.42 247.44,711.21 249.96,703.00 252.48,707.62 255.00,740.99 257.53,735.00 260.05,731.40 262.57,742.53 265.09,743.21 267.61,708.30 270.14,732.09 272.66,729.18 275.18,717.88 277.70,712.75 280.22,731.40 282.75,728.32 285.27,720.11 287.79,732.09 290.31,732.77 292.83,719.42 295.36,705.39 297.88,719.42 300.40,720.11 302.92,712.07 305.44,730.55 307.97,717.20 310.49,715.66 313.01,698.55 315.53,684.51 318.05,681.43 320.58,693.41 323.10,691.87 325.62,693.41 328.14,720.11 330.66,722.16 333.19,720.62 335.71,706.08 338.23,706.08 340.75,700.77 343.27,694.10 345.80,687.42 348.32,714.97 350.84,723.19" fill="none" stroke="#d41a24" stroke-width="2.4"/>
<path d="M411.90 644.60 V781.00 H714.40" fill="none" stroke="#111" stroke-width="1.6"/>
<line x1="407.40" y1="781.00" x2="411.90" y2="781.00" stroke="#111" stroke-width="1.4"/>
<text x="406.90" y="784.60" text-anchor="end" class="tk">0.0</text>
<line x1="407.40" y1="753.72" x2="411.90" y2="753.72" stroke="#111" stroke-width="1.4"/>
<text x="406.90" y="757.32" text-anchor="end" class="tk">0.2</text>
<line x1="407.40" y1="726.44" x2="411.90" y2="726.44" stroke="#111" stroke-width="1.4"/>
<text x="406.90" y="730.04" text-anchor="end" class="tk">0.4</text>
<line x1="407.40" y1="699.16" x2="411.90" y2="699.16" stroke="#111" stroke-width="1.4"/>
<text x="406.90" y="702.76" text-anchor="end" class="tk">0.6</text>
<line x1="407.40" y1="671.88" x2="411.90" y2="671.88" stroke="#111" stroke-width="1.4"/>
<text x="406.90" y="675.48" text-anchor="end" class="tk">0.8</text>
<line x1="407.40" y1="644.60" x2="411.90" y2="644.60" stroke="#111" stroke-width="1.4"/>
<text x="406.90" y="648.20" text-anchor="end" class="tk">1.0</text>
<line x1="411.80" y1="781.00" x2="411.80" y2="785.50" stroke="#111" stroke-width="1.4"/>
<text transform="translate(416.10,794.50) rotate(-45)" text-anchor="end" class="tk">0</text>
<line x1="442.06" y1="781.00" x2="442.06" y2="785.50" stroke="#111" stroke-width="1.4"/>
<text transform="translate(446.36,794.50) rotate(-45)" text-anchor="end" class="tk">10</text>
<line x1="472.32" y1="781.00" x2="472.32" y2="785.50" stroke="#111" stroke-width="1.4"/>
<text transform="translate(476.62,794.50) rotate(-45)" text-anchor="end" class="tk">20</text>
<line x1="502.58" y1="781.00" x2="502.58" y2="785.50" stroke="#111" stroke-width="1.4"/>
<text transform="translate(506.88,794.50) rotate(-45)" text-anchor="end" class="tk">30</text>
<line x1="532.84" y1="781.00" x2="532.84" y2="785.50" stroke="#111" stroke-width="1.4"/>
<text transform="translate(537.14,794.50) rotate(-45)" text-anchor="end" class="tk">40</text>
<line x1="563.10" y1="781.00" x2="563.10" y2="785.50" stroke="#111" stroke-width="1.4"/>
<text transform="translate(567.40,794.50) rotate(-45)" text-anchor="end" class="tk">50</text>
<line x1="593.36" y1="781.00" x2="593.36" y2="785.50" stroke="#111" stroke-width="1.4"/>
<text transform="translate(597.66,794.50) rotate(-45)" text-anchor="end" class="tk">60</text>
<line x1="623.62" y1="781.00" x2="623.62" y2="785.50" stroke="#111" stroke-width="1.4"/>
<text transform="translate(627.92,794.50) rotate(-45)" text-anchor="end" class="tk">70</text>
<line x1="653.88" y1="781.00" x2="653.88" y2="785.50" stroke="#111" stroke-width="1.4"/>
<text transform="translate(658.18,794.50) rotate(-45)" text-anchor="end" class="tk">80</text>
<line x1="684.14" y1="781.00" x2="684.14" y2="785.50" stroke="#111" stroke-width="1.4"/>
<text transform="translate(688.44,794.50) rotate(-45)" text-anchor="end" class="tk">90</text>
<line x1="714.40" y1="781.00" x2="714.40" y2="785.50" stroke="#111" stroke-width="1.4"/>
<text transform="translate(718.70,794.50) rotate(-45)" text-anchor="end" class="tk">100</text>
<text x="425.00" y="820.80" class="ti" textLength="259.5" lengthAdjust="spacingAndGlyphs">Position (Overlapping Epitopic Region N:165-267)</text>
<text transform="translate(387.20,712.80) rotate(-90)" text-anchor="middle" class="yl yln" textLength="113.0" lengthAdjust="spacingAndGlyphs">Hydrophobicity Score</text>
<text x="370.00" y="632.00" class="pl">h)</text>
<polyline points="487.45,756.45 490.48,747.85 493.50,753.72 496.53,748.54 499.55,744.04 502.58,744.04 505.61,746.35" fill="none" stroke="#111" stroke-width="2.4" stroke-dasharray="4 2.2"/>
<polyline points="517.71,734.35 520.74,735.31 523.76,735.31 526.79,735.31 529.81,735.99 532.84,719.62 535.87,726.99 538.89,719.48" fill="none" stroke="#111" stroke-width="2.4" stroke-dasharray="4 2.2"/>
<polyline points="554.02,712.80 557.05,736.67 560.07,729.99 563.10,716.48 566.13,700.11 569.15,689.75 572.18,679.25 575.20,669.56" fill="none" stroke="#111" stroke-width="2.4" stroke-dasharray="4 2.2"/>
<polyline points="608.49,736.67 611.52,724.12 614.54,732.31 617.57,726.99 620.59,733.81 623.62,724.12 626.65,737.35 629.67,746.35" fill="none" stroke="#111" stroke-width="2.4" stroke-dasharray="4 2.2"/>
<polyline points="514.68,725.49 517.71,717.98 520.74,726.99 523.76,727.67 526.79,728.49 529.81,730.26 532.84,731.35" fill="none" stroke="#2b2f8a" stroke-width="2.4"/>
<polyline points="414.83,722.48 417.85,721.26 420.88,710.62 423.90,726.71 426.93,715.80 429.96,714.71 432.98,714.71 436.01,725.49 439.03,734.35 442.06,742.13 445.09,732.85 448.11,734.35 451.14,742.13 454.16,722.76 457.19,723.98 460.22,725.08 463.24,736.12 466.27,728.49 469.29,736.12 472.32,736.67 475.35,747.85 478.37,736.67 481.40,747.85 484.42,756.45 487.45,756.45 490.48,731.08 493.50,741.03 496.53,738.58 499.55,730.26 502.58,730.26 505.61,746.35 508.63,736.67 511.66,729.17 514.68,725.49 517.71,734.35 520.74,744.85 523.76,745.54 526.79,745.54 529.81,747.85 532.84,731.35 535.87,730.67 538.89,719.48 541.92,713.48 544.94,711.30 547.97,726.99 551.00,713.48 554.02,712.80 557.05,729.17 560.07,729.99 563.10,716.48 566.13,701.62 569.15,703.12 572.18,683.75 575.20,669.56 578.23,661.38 581.26,661.38 584.28,679.25 587.31,703.12 590.33,703.12 593.36,726.99 596.39,747.04 599.41,726.99 602.44,720.98 605.46,735.17 608.49,736.67 611.52,712.80 614.54,715.12 617.57,706.12 620.59,715.80 623.62,704.62 626.65,726.99 629.67,746.35 632.70,758.08 635.72,756.86 638.75,756.86 641.78,756.86 644.80,747.85 647.83,725.49 650.85,716.62 653.88,726.99 656.91,727.80 659.93,728.76 662.96,735.17 665.98,728.49 669.01,726.99 672.04,709.94 675.06,709.94 678.09,726.99 681.11,744.17 684.14,738.72 687.17,758.36 690.19,766.13 693.22,766.13 696.24,767.63 699.27,765.04 702.30,744.99 705.32,737.49 708.35,737.22 711.37,718.12" fill="none" stroke="#d41a24" stroke-width="2.4"/>
<path d="M48.50 859.60 V996.40 H350.30" fill="none" stroke="#111" stroke-width="1.6"/>
<line x1="44.00" y1="996.40" x2="48.50" y2="996.40" stroke="#111" stroke-width="1.4"/>
<text x="43.50" y="1000.00" text-anchor="end" class="tk">0.0</text>
<line x1="44.00" y1="962.20" x2="48.50" y2="962.20" stroke="#111" stroke-width="1.4"/>
<text x="43.50" y="965.80" text-anchor="end" class="tk">0.2</text>
<line x1="44.00" y1="928.00" x2="48.50" y2="928.00" stroke="#111" stroke-width="1.4"/>
<text x="43.50" y="931.60" text-anchor="end" class="tk">0.4</text>
<line x1="44.00" y1="893.80" x2="48.50" y2="893.80" stroke="#111" stroke-width="1.4"/>
<text x="43.50" y="897.40" text-anchor="end" class="tk">0.6</text>
<line x1="44.00" y1="859.60" x2="48.50" y2="859.60" stroke="#111" stroke-width="1.4"/>
<text x="43.50" y="863.20" text-anchor="end" class="tk">0.8</text>
<line x1="48.20" y1="996.40" x2="48.20" y2="1000.90" stroke="#111" stroke-width="1.4"/>
<text transform="translate(52.50,1009.90) rotate(-45)" text-anchor="end" class="tk">0</text>
<line x1="108.60" y1="996.40" x2="108.60" y2="1000.90" stroke="#111" stroke-width="1.4"/>
<text transform="translate(112.90,1009.90) rotate(-45)" text-anchor="end" class="tk">10</text>
<line x1="169.00" y1="996.40" x2="169.00" y2="1000.90" stroke="#111" stroke-width="1.4"/>
<text transform="translate(173.30,1009.90) rotate(-45)" text-anchor="end" class="tk">20</text>
<line x1="229.40" y1="996.40" x2="229.40" y2="1000.90" stroke="#111" stroke-width="1.4"/>
<text transform="translate(233.70,1009.90) rotate(-45)" text-anchor="end" class="tk">30</text>
<line x1="289.80" y1="996.40" x2="289.80" y2="1000.90" stroke="#111" stroke-width="1.4"/>
<text transform="translate(294.10,1009.90) rotate(-45)" text-anchor="end" class="tk">40</text>
<line x1="350.20" y1="996.40" x2="350.20" y2="1000.90" stroke="#111" stroke-width="1.4"/>
<text transform="translate(354.50,1009.90) rotate(-45)" text-anchor="end" class="tk">50</text>
<text x="63.30" y="1037.60" class="ti" textLength="260.3" lengthAdjust="spacingAndGlyphs">Position (Overlapping Epitopic Region N:352-402)</text>
<text transform="translate(22.30,928.00) rotate(-90)" text-anchor="middle" class="yl" textLength="116.0" lengthAdjust="spacingAndGlyphs">Hydrophobicity Score</text>
<text x="4.10" y="857.60" class="pl">i)</text>
<polyline points="84.44,919.79 90.48,939.46 96.52,916.20 102.56,929.03 108.60,928.00 114.64,916.71 120.68,923.90" fill="none" stroke="#111" stroke-width="2.4" stroke-dasharray="4 2.2"/>
<polyline points="175.04,962.71 181.08,961.00 187.12,955.87 193.16,948.69 199.20,946.64 205.24,944.59 211.28,917.74 217.32,912.61 223.36,921.84" fill="none" stroke="#111" stroke-width="2.4" stroke-dasharray="4 2.2"/>
<polyline points="241.48,965.11 247.52,981.52 253.56,983.57 259.60,979.47" fill="none" stroke="#111" stroke-width="2.4" stroke-dasharray="4 2.2"/>
<polyline points="54.24,921.84 60.28,919.45 66.32,946.64 72.36,928.00 78.40,916.71 84.44,919.79 90.48,919.79 96.52,895.51 102.56,909.19 108.60,910.05 114.64,897.56 120.68,923.90 126.72,944.59 132.76,956.90 138.80,969.21 144.84,972.97 150.88,974.34 156.92,983.23 162.96,983.23 169.00,983.23 175.04,962.71 181.08,952.79 187.12,951.09 193.16,919.45 199.20,918.77 205.24,917.40 211.28,898.25 217.32,892.09 223.36,921.84 229.40,923.90 235.44,941.51 241.48,965.11 247.52,979.47 253.56,981.52 259.60,979.47 265.64,969.21 271.68,940.48 277.72,928.00 283.76,900.30 289.80,871.57 295.84,875.67 301.88,883.88 307.92,874.65 313.96,901.32 320.00,902.35 326.04,909.53 332.08,929.03" fill="none" stroke="#d41a24" stroke-width="2.4"/>
<path d="M411.60 860.00 V996.20 H719.70" fill="none" stroke="#111" stroke-width="1.6"/>
<line x1="407.10" y1="996.20" x2="411.60" y2="996.20" stroke="#111" stroke-width="1.4"/>
<text x="406.60" y="999.80" text-anchor="end" class="tk">0.0</text>
<line x1="407.10" y1="968.96" x2="411.60" y2="968.96" stroke="#111" stroke-width="1.4"/>
<text x="406.60" y="972.56" text-anchor="end" class="tk">0.2</text>
<line x1="407.10" y1="941.72" x2="411.60" y2="941.72" stroke="#111" stroke-width="1.4"/>
<text x="406.60" y="945.32" text-anchor="end" class="tk">0.4</text>
<line x1="407.10" y1="914.48" x2="411.60" y2="914.48" stroke="#111" stroke-width="1.4"/>
<text x="406.60" y="918.08" text-anchor="end" class="tk">0.6</text>
<line x1="407.10" y1="887.24" x2="411.60" y2="887.24" stroke="#111" stroke-width="1.4"/>
<text x="406.60" y="890.84" text-anchor="end" class="tk">0.8</text>
<line x1="407.10" y1="860.00" x2="411.60" y2="860.00" stroke="#111" stroke-width="1.4"/>
<text x="406.60" y="863.60" text-anchor="end" class="tk">1.0</text>
<line x1="411.80" y1="996.20" x2="411.80" y2="1000.70" stroke="#111" stroke-width="1.4"/>
<text transform="translate(416.10,1009.70) rotate(-45)" text-anchor="end" class="tk">0</text>
<line x1="438.30" y1="996.20" x2="438.30" y2="1000.70" stroke="#111" stroke-width="1.4"/>
<text transform="translate(442.60,1009.70) rotate(-45)" text-anchor="end" class="tk">5</text>
<line x1="464.80" y1="996.20" x2="464.80" y2="1000.70" stroke="#111" stroke-width="1.4"/>
<text transform="translate(469.10,1009.70) rotate(-45)" text-anchor="end" class="tk">10</text>
<line x1="491.30" y1="996.20" x2="491.30" y2="1000.70" stroke="#111" stroke-width="1.4"/>
<text transform="translate(495.60,1009.70) rotate(-45)" text-anchor="end" class="tk">15</text>
<line x1="517.80" y1="996.20" x2="517.80" y2="1000.70" stroke="#111" stroke-width="1.4"/>
<text transform="translate(522.10,1009.70) rotate(-45)" text-anchor="end" class="tk">20</text>
<line x1="544.30" y1="996.20" x2="544.30" y2="1000.70" stroke="#111" stroke-width="1.4"/>
<text transform="translate(548.60,1009.70) rotate(-45)" text-anchor="end" class="tk">25</text>
<line x1="570.80" y1="996.20" x2="570.80" y2="1000.70" stroke="#111" stroke-width="1.4"/>
<text transform="translate(575.10,1009.70) rotate(-45)" text-anchor="end" class="tk">30</text>
<line x1="597.30" y1="996.20" x2="597.30" y2="1000.70" stroke="#111" stroke-width="1.4"/>
<text transform="translate(601.60,1009.70) rotate(-45)" text-anchor="end" class="tk">35</text>
<line x1="623.80" y1="996.20" x2="623.80" y2="1000.70" stroke="#111" stroke-width="1.4"/>
<text transform="translate(628.10,1009.70) rotate(-45)" text-anchor="end" class="tk">40</text>
<line x1="650.30" y1="996.20" x2="650.30" y2="1000.70" stroke="#111" stroke-width="1.4"/>
<text transform="translate(654.60,1009.70) rotate(-45)" text-anchor="end" class="tk">45</text>
<line x1="676.80" y1="996.20" x2="676.80" y2="1000.70" stroke="#111" stroke-width="1.4"/>
<text transform="translate(681.10,1009.70) rotate(-45)" text-anchor="end" class="tk">50</text>
<line x1="703.30" y1="996.20" x2="703.30" y2="1000.70" stroke="#111" stroke-width="1.4"/>
<text transform="translate(707.60,1009.70) rotate(-45)" text-anchor="end" class="tk">55</text>
<text x="435.00" y="1031.90" class="ti" textLength="248.4" lengthAdjust="spacingAndGlyphs">Position (Overlapping Epitopic Region M:25-85)</text>
<text transform="translate(387.20,928.10) rotate(-90)" text-anchor="middle" class="yl yln" textLength="115.0" lengthAdjust="spacingAndGlyphs">Hydrophobicity Score</text>
<text x="372.40" y="857.70" class="pl">j)</text>
<polyline points="417.10,889.01 422.40,890.78 427.70,900.32 433.00,898.82 438.30,900.32" fill="none" stroke="#111" stroke-width="2.4" stroke-dasharray="4 2.2"/>
<polyline points="692.70,912.57 698.00,900.04 703.30,889.56 708.60,882.88 713.90,891.33" fill="none" stroke="#111" stroke-width="2.4" stroke-dasharray="4 2.2"/>
<polyline points="417.10,886.01 422.40,886.83 427.70,897.59 433.00,896.09 438.30,900.32 443.60,900.32 448.90,886.83 454.20,893.91 459.50,899.23 464.80,901.81 470.10,917.88 475.40,923.06 480.70,923.06 486.00,942.81 491.30,960.92 496.60,971.55 501.90,967.73 507.20,944.99 512.50,936.41 517.80,915.16 523.10,884.38 528.40,905.22 533.70,905.22 539.00,887.51 544.30,892.82 549.60,895.00 554.90,885.47 560.20,885.47 565.50,887.51 570.80,900.45 576.10,914.75 581.40,900.04 586.70,913.66 592.00,913.66 597.30,906.04 602.60,892.82 607.90,896.50 613.20,882.47 618.50,882.47 623.80,882.47 629.10,884.65 634.40,880.29 639.70,897.18 645.00,921.97 650.30,913.66 655.60,929.05 660.90,945.53 666.20,929.05 671.50,916.25 676.80,931.23 682.10,920.20 687.40,905.35 692.70,912.57 698.00,913.66 703.30,906.58 708.60,900.04 713.90,908.21" fill="none" stroke="#d41a24" stroke-width="2.4"/>
<text x="142.60" y="22.90" class="an" style="font-size:14.80px" textLength="37.30" lengthAdjust="spacingAndGlyphs">H49Y</text>
<line x1="160.20" y1="27.90" x2="160.20" y2="42.00" stroke="#111" stroke-width="2.5" stroke-linecap="round"/>
<path d="M155.90 40.60 L160.20 41.60 L164.50 40.60 L160.20 50.70 Z" fill="#111"/>
<text x="604.40" y="52.40" class="an" style="font-size:14.53px" textLength="47.80" lengthAdjust="spacingAndGlyphs">E154K</text>
<line x1="628.60" y1="60.20" x2="628.60" y2="74.00" stroke="#111" stroke-width="2.5" stroke-linecap="round"/>
<path d="M624.10 72.60 L628.60 73.60 L633.10 72.60 L628.60 84.40 Z" fill="#111"/>
<text x="82.80" y="231.70" class="an" style="font-size:14.39px" textLength="46.90" lengthAdjust="spacingAndGlyphs">L452R</text>
<line x1="106.00" y1="238.10" x2="106.00" y2="248.00" stroke="#111" stroke-width="2.5" stroke-linecap="round"/>
<path d="M101.25 246.60 L106.00 247.60 L110.75 246.60 L106.00 257.50 Z" fill="#111"/>
<text x="419.70" y="265.80" class="an" style="font-size:13.69px" textLength="62.40" lengthAdjust="spacingAndGlyphs">P681H/R</text>
<line x1="446.10" y1="270.90" x2="446.10" y2="303.80" stroke="#111" stroke-width="2.5" stroke-linecap="round"/>
<path d="M441.60 302.40 L446.10 303.40 L450.60 302.40 L446.10 312.20 Z" fill="#111"/>
<text x="81.70" y="466.60" class="an" style="font-size:13.97px" textLength="58.20" lengthAdjust="spacingAndGlyphs">Q1071H</text>
<line x1="108.60" y1="483.40" x2="108.60" y2="500.20" stroke="#111" stroke-width="2.5" stroke-linecap="round"/>
<path d="M104.35 498.80 L108.60 499.80 L112.85 498.80 L108.60 510.60 Z" fill="#111"/>
<text x="235.50" y="458.70" class="an" style="font-size:13.41px" textLength="54.90" lengthAdjust="spacingAndGlyphs">H1101D</text>
<line x1="252.20" y1="465.20" x2="252.20" y2="488.50" stroke="#111" stroke-width="2.5" stroke-linecap="round"/>
<path d="M247.95 487.10 L252.20 488.10 L256.45 487.10 L252.20 497.10 Z" fill="#111"/>
<text x="301.90" y="444.70" class="an" style="font-size:14.39px" textLength="56.40" lengthAdjust="spacingAndGlyphs">D1118H</text>
<line x1="329.70" y1="448.60" x2="329.70" y2="455.30" stroke="#111" stroke-width="2.5" stroke-linecap="round"/>
<path d="M325.45 453.90 L329.70 454.90 L333.95 453.90 L329.70 463.90 Z" fill="#111"/>
<text x="621.90" y="444.90" class="an" style="font-size:13.41px" textLength="54.40" lengthAdjust="spacingAndGlyphs">V1230L</text>
<line x1="649.60" y1="451.40" x2="649.60" y2="469.30" stroke="#111" stroke-width="2.5" stroke-linecap="round"/>
<path d="M645.35 467.90 L649.60 468.90 L653.85 467.90 L649.60 478.00 Z" fill="#111"/>
<text x="178.90" y="659.00" class="an" style="font-size:10.34px" textLength="31.20" lengthAdjust="spacingAndGlyphs">D63G</text>
<line x1="195.60" y1="664.70" x2="195.60" y2="685.50" stroke="#111" stroke-width="2.5" stroke-linecap="round"/>
<path d="M192.10 684.10 L195.60 685.10 L199.10 684.10 L195.60 691.00 Z" fill="#111"/>
<text x="499.00" y="664.30" class="an" style="font-size:11.87px" textLength="50.60" lengthAdjust="spacingAndGlyphs">R203K/M</text>
<line x1="524.30" y1="672.10" x2="524.30" y2="707.80" stroke="#111" stroke-width="2.5" stroke-linecap="round"/>
<path d="M520.80 706.40 L524.30 707.40 L527.80 706.40 L524.30 714.00 Z" fill="#111"/>
<text x="531.80" y="686.20" class="an" style="font-size:10.06px" textLength="38.60" lengthAdjust="spacingAndGlyphs">G215C</text>
<line x1="553.30" y1="692.20" x2="553.30" y2="702.00" stroke="#111" stroke-width="2.5" stroke-linecap="round"/>
<path d="M549.80 700.60 L553.30 701.60 L556.80 700.60 L553.30 708.00 Z" fill="#111"/>
<text x="549.60" y="641.20" class="an" style="font-size:11.03px" textLength="36.40" lengthAdjust="spacingAndGlyphs">A217S</text>
<line x1="567.50" y1="647.90" x2="567.50" y2="667.70" stroke="#111" stroke-width="2.5" stroke-linecap="round"/>
<path d="M564.00 666.30 L567.50 667.30 L571.00 666.30 L567.50 673.90 Z" fill="#111"/>
<text x="88.40" y="870.70" class="an" style="font-size:11.03px" textLength="31.00" lengthAdjust="spacingAndGlyphs">T362I</text>
<line x1="106.40" y1="877.00" x2="106.40" y2="896.40" stroke="#111" stroke-width="2.5" stroke-linecap="round"/>
<path d="M102.90 895.00 L106.40 896.00 L109.90 895.00 L106.40 902.70 Z" fill="#111"/>
<text x="170.80" y="887.80" class="an" style="font-size:12.01px" textLength="36.80" lengthAdjust="spacingAndGlyphs">D377Y</text>
<line x1="188.00" y1="894.40" x2="188.00" y2="914.40" stroke="#111" stroke-width="2.5" stroke-linecap="round"/>
<path d="M184.50 913.00 L188.00 914.00 L191.50 913.00 L188.00 920.80 Z" fill="#111"/>
<text x="234.30" y="926.00" class="an" style="font-size:10.89px" textLength="36.10" lengthAdjust="spacingAndGlyphs">R385K</text>
<line x1="249.10" y1="933.90" x2="249.10" y2="966.70" stroke="#111" stroke-width="2.5" stroke-linecap="round"/>
<path d="M245.60 965.30 L249.10 966.30 L252.60 965.30 L249.10 974.00 Z" fill="#111"/>
<text x="416.80" y="856.80" class="an" style="font-size:12.01px" textLength="27.60" lengthAdjust="spacingAndGlyphs">F28L</text>
<line x1="429.60" y1="860.20" x2="429.60" y2="880.60" stroke="#111" stroke-width="2.5" stroke-linecap="round"/>
<path d="M426.10 879.20 L429.60 880.20 L433.10 879.20 L429.60 886.60 Z" fill="#111"/>
<text x="679.00" y="847.60" class="an" style="font-size:12.01px" textLength="35.00" lengthAdjust="spacingAndGlyphs">I82T/S</text>
<line x1="696.80" y1="857.20" x2="696.80" y2="877.60" stroke="#111" stroke-width="2.5" stroke-linecap="round"/>
<path d="M693.40 876.20 L696.80 877.20 L700.20 876.20 L696.80 884.00 Z" fill="#111"/>
<line x1="656.7" y1="34.6" x2="673.3" y2="34.6" stroke="#111" stroke-width="2.2" stroke-dasharray="4.4 1.7"/>
<line x1="657.3" y1="54.1" x2="672.7" y2="54.1" stroke="#2b2f8a" stroke-width="2.2"/>
<line x1="657.3" y1="69.7" x2="672.7" y2="69.7" stroke="#d41a24" stroke-width="2.2"/>
<text x="681.6" y="38.7" class="an" style="font-size:10.75px" textLength="53.10" lengthAdjust="spacingAndGlyphs">Reference</text>
<text x="681.6" y="58.1" class="an" style="font-size:10.89px" textLength="41.40" lengthAdjust="spacingAndGlyphs">Mutant1</text>
<text x="681.6" y="73.3" class="an" style="font-size:10.61px" textLength="42.40" lengthAdjust="spacingAndGlyphs">Mutant2</text>
</svg></body></html>
